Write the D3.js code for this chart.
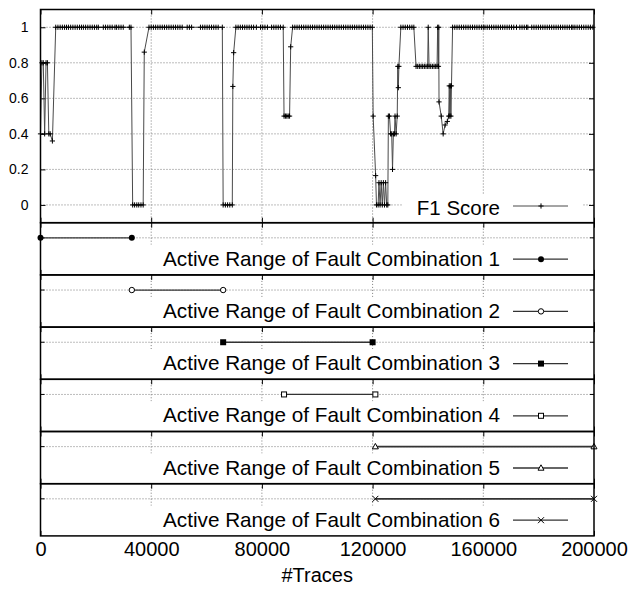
<!DOCTYPE html>
<html>
<head>
<meta charset="utf-8">
<script src="https://cdn.jsdelivr.net/npm/d3@7"></script>
<style>
  body { margin: 0; background: #fff; }
  text { font-family: "Liberation Sans", Arial, Helvetica, sans-serif; }
</style>
</head>
<body>
<div id="chart"></div>
<script>
// x ticks (number of traces) and y ticks of the F1 panel
const xTicks = [0, 40000, 80000, 120000, 160000, 200000];
const yTicks = [0, 0.2, 0.4, 0.6, 0.8, 1];

// F1 score over the number of traces
const f1Points = [
  [0, 0.4], [500, 0.8], [1000, 0.8], [1500, 0.4], [2000, 0.8], [2500, 0.8], [3000, 0.4], [3500, 0.4], [4300, 0.36],
  [5500, 1], [6300, 1], [7100, 1], [7900, 1], [8700, 1], [9400, 1], [10100, 1], [10900, 1], [11700, 1], [12500, 1],
  [13300, 1], [14100, 1], [14800, 1], [15500, 1], [16300, 1], [17100, 1], [17900, 1], [18700, 1], [19500, 1],
  [20300, 1], [20900, 1], [22700, 1], [23500, 1], [24300, 1], [25100, 1], [25900, 1], [26900, 1], [27500, 1],
  [28300, 1], [29100, 1], [29900, 1], [32100, 1], [32700, 1],
  [33300, 0], [34000, 0], [34800, 0], [35500, 0], [36300, 0], [37100, 0], [37500, 0.86],
  [39200, 1], [40000, 1], [40800, 1], [41600, 1], [42400, 1], [43200, 1], [44000, 1], [44800, 1], [45600, 1],
  [46400, 1], [47200, 1], [48000, 1], [48800, 1], [49600, 1], [50400, 1], [51200, 1], [53000, 1], [53800, 1],
  [54600, 1], [57800, 1], [58600, 1], [59400, 1], [60200, 1], [61000, 1], [61800, 1], [62600, 1], [63400, 1],
  [64200, 1], [65700, 1],
  [66000, 0], [66800, 0], [67600, 0], [68400, 0], [69300, 0], [69500, 0.667], [69800, 0.857],
  [70600, 1], [71400, 1], [72200, 1], [73000, 1], [73800, 1], [74600, 1], [75400, 1], [76200, 1], [77000, 1],
  [78000, 1], [79500, 1], [80300, 1], [81100, 1], [82000, 1], [83500, 1], [84300, 1], [85100, 1], [85900, 1],
  [86700, 1], [87700, 1],
  [88000, 0.5], [88500, 0.5], [89000, 0.5], [89500, 0.5], [90000, 0.5], [90400, 0.89],
  [91100, 1], [91900, 1], [92700, 1], [93500, 1], [94300, 1], [95100, 1], [95900, 1], [96700, 1], [97500, 1],
  [98300, 1], [99100, 1], [99900, 1], [100700, 1], [101500, 1], [102300, 1], [103100, 1], [103900, 1],
  [104700, 1], [105500, 1], [106300, 1], [107100, 1], [107900, 1], [108700, 1], [109500, 1], [110300, 1],
  [111100, 1], [111900, 1], [112700, 1], [113500, 1], [114300, 1], [115100, 1], [115900, 1], [116700, 1],
  [117500, 1], [118300, 1], [119100, 1], [119900, 1],
  [120200, 0.5], [121100, 0.165], [121400, 0], [122000, 0], [122300, 0.125], [122700, 0], [123100, 0.125],
  [123500, 0], [123900, 0.125], [124300, 0], [124700, 0.125], [125100, 0], [125500, 0],
  [125700, 0.5], [126100, 0.5], [126500, 0.4], [126900, 0.4], [127200, 0.2], [127500, 0.4], [127900, 0.4],
  [128100, 0.5], [128500, 0.4], [128900, 0.5], [129100, 0.78], [129300, 0.66], [129500, 0.78],
  [130200, 1], [131000, 1], [131800, 1], [132600, 1], [133400, 1], [134200, 1], [134900, 1],
  [135700, 0.78], [136300, 0.78], [136900, 0.78], [137500, 0.78], [138100, 0.78], [138700, 0.78], [139300, 0.78],
  [139900, 0.78], [140100, 1], [140400, 0.78], [141000, 0.78], [141600, 0.78], [142200, 0.78], [142800, 0.78],
  [143300, 0.78], [143500, 1], [143800, 0.78], [143900, 1],
  [144000, 0.58], [144800, 0.5], [145500, 0.4], [146200, 0.45], [147000, 0.47], [147500, 0.5], [147700, 0.67],
  [147900, 0.5], [148100, 0.67], [148300, 0.5], [148500, 0.67],
  [148900, 1], [149700, 1], [150500, 1], [151300, 1], [152100, 1], [152900, 1], [153700, 1], [154500, 1],
  [155300, 1], [156100, 1], [156900, 1], [157700, 1], [158500, 1], [159300, 1], [160000, 1], [160600, 1],
  [161400, 1], [162200, 1], [163000, 1], [163800, 1], [164600, 1], [165400, 1], [166200, 1], [167000, 1],
  [167800, 1], [168600, 1], [169400, 1], [170200, 1], [171000, 1], [172000, 1], [173200, 1], [174000, 1],
  [174800, 1], [175600, 1], [176100, 1], [177500, 1], [178300, 1], [179100, 1], [179900, 1], [180700, 1],
  [181500, 1], [182300, 1], [183100, 1], [183900, 1], [184700, 1], [185500, 1], [186300, 1], [187100, 1],
  [187900, 1], [188700, 1], [189500, 1], [190300, 1], [191100, 1], [191900, 1], [192400, 1], [193100, 1],
  [193900, 1], [194700, 1], [195500, 1], [196300, 1], [197100, 1], [197900, 1], [198700, 1], [199600, 1]
];

// active ranges of the fault combinations
const comboNames = [
  "Active Range of Fault Combination 1",
  "Active Range of Fault Combination 2",
  "Active Range of Fault Combination 3",
  "Active Range of Fault Combination 4",
  "Active Range of Fault Combination 5",
  "Active Range of Fault Combination 6"
];
const comboStart = [0, 33000, 66000, 88000, 121000, 121000];
const comboEnd = [33000, 66000, 120000, 121000, 200000, 200000];
const comboSymbols = ["dot", "circle", "square", "openSquare", "triangle", "cross"];

var width = 632, height = 597;
var left = 40.5, right = 594;
var topY = 9.5, topBottom = 222.7, panelH = 52.2;

var svg = d3.select("#chart")
    .append("svg")
    .attr("width", width)
    .attr("height", height);

var x = d3.scaleLinear().domain([0, 200000]).range([left, right]);
var yTop = d3.scaleLinear().domain([-0.1, 1.1]).range([topBottom, topY]);

var gridColor = "#7a7a7a";
var innerX = xTicks.slice(1, -1);

function plus(g, cx, cy, s) {
    g.append("path")
        .attr("d", `M${cx - s},${cy}H${cx + s}M${cx},${cy - s}V${cy + s}`)
        .attr("stroke", "#000").attr("stroke-width", 1).attr("fill", "none");
}

function symbol(g, type, cx, cy) {
    if (type === "dot") {
        g.append("circle").attr("cx", cx).attr("cy", cy).attr("r", 3).attr("fill", "#000");
    } else if (type === "circle") {
        g.append("circle").attr("cx", cx).attr("cy", cy).attr("r", 2.7)
            .attr("fill", "#fff").attr("stroke", "#000").attr("stroke-width", 1);
    } else if (type === "square") {
        g.append("rect").attr("x", cx - 3).attr("y", cy - 3).attr("width", 6).attr("height", 6).attr("fill", "#000");
    } else if (type === "openSquare") {
        g.append("rect").attr("x", cx - 2.5).attr("y", cy - 2.5).attr("width", 5).attr("height", 5)
            .attr("fill", "#fff").attr("stroke", "#000").attr("stroke-width", 1);
    } else if (type === "triangle") {
        g.append("path").attr("d", `M${cx},${cy - 3.2}L${cx + 3},${cy + 2.2}L${cx - 3},${cy + 2.2}Z`)
            .attr("fill", "#fff").attr("stroke", "#000").attr("stroke-width", 1);
    } else if (type === "cross") {
        g.append("path").attr("d", `M${cx - 3},${cy - 3}L${cx + 3},${cy + 3}M${cx - 3},${cy + 3}L${cx + 3},${cy - 3}`)
            .attr("stroke", "#000").attr("stroke-width", 1);
    }
}

// vertical grid + inward x ticks for one panel
function xFrame(g, y0, y1) {
    g.selectAll(null).data(innerX).enter().append("line")
        .attr("x1", d => x(d)).attr("x2", d => x(d))
        .attr("y1", y0).attr("y2", y1)
        .attr("stroke", gridColor).attr("stroke-dasharray", "1,2");
    g.append("g").attr("transform", `translate(0,${y1})`)
        .call(d3.axisBottom(x).tickValues(xTicks).tickSize(-5).tickFormat(""))
        .call(a => a.select(".domain").remove());
    g.append("g").attr("transform", `translate(0,${y0})`)
        .call(d3.axisTop(x).tickValues(xTicks).tickSize(-5).tickFormat(""))
        .call(a => a.select(".domain").remove());
}

// ---- top panel: F1 score
var topPanel = svg.append("g");
topPanel.selectAll(null).data(yTicks).enter().append("line")
    .attr("x1", left).attr("x2", right)
    .attr("y1", d => yTop(d)).attr("y2", d => yTop(d))
    .attr("stroke", gridColor).attr("stroke-dasharray", "1,2");
xFrame(topPanel, topY, topBottom);

topPanel.append("g").attr("transform", `translate(${left},0)`)
    .call(d3.axisLeft(yTop).tickValues(yTicks).tickSize(-5).tickPadding(12).tickFormat(d3.format("")))
    .call(a => a.select(".domain").remove())
    .selectAll("text").style("font-size", "14px").attr("fill", "#000")
    .style("font-family", "'Liberation Sans', Arial, sans-serif");
topPanel.append("g").attr("transform", `translate(${right},0)`)
    .call(d3.axisRight(yTop).tickValues(yTicks).tickSize(-5).tickFormat(""))
    .call(a => a.select(".domain").remove());

// key box (opaque)
topPanel.append("rect").attr("x", 402).attr("y", 195).attr("width", 180).attr("height", topBottom - 195).attr("fill", "#fff");

var line = d3.line().x(d => x(d[0])).y(d => yTop(d[1]));
topPanel.append("path").datum(f1Points)
    .attr("d", line).attr("fill", "none")
    .attr("stroke", "#4a4a4a").attr("stroke-width", 1);
f1Points.forEach(d => plus(topPanel, x(d[0]), yTop(d[1]), 2.6));

topPanel.append("text").attr("x", 500).attr("y", 215).attr("text-anchor", "end")
    .style("font-size", "20.5px").text("F1 Score");
topPanel.append("line").attr("x1", 513).attr("x2", 568).attr("y1", 206).attr("y2", 206)
    .attr("stroke", "#4a4a4a").attr("stroke-width", 1);
plus(topPanel, 541, 206, 2.6);

topPanel.append("rect").attr("x", left).attr("y", topY).attr("width", right - left).attr("height", topBottom - topY)
    .attr("fill", "none").attr("stroke", "#000").attr("stroke-width", 1.5);

// ---- lower panels: active ranges
comboNames.forEach(function (name, i) {
    var p0 = topBottom + i * panelH, p1 = p0 + panelH;
    var yP = d3.scaleLinear().domain([0, 1]).range([p1, p0]);
    var level = yP(0.71);
    var g = svg.append("g");

    g.append("line").attr("x1", left).attr("x2", right).attr("y1", level).attr("y2", level)
        .attr("stroke", gridColor).attr("stroke-dasharray", "1,2");
    xFrame(g, p0, p1);
    g.append("line").attr("x1", left).attr("x2", left + 4).attr("y1", level).attr("y2", level).attr("stroke", "#000");
    g.append("line").attr("x1", right - 4).attr("x2", right).attr("y1", level).attr("y2", level).attr("stroke", "#000");

    // key box (opaque)
    g.append("rect").attr("x", 150).attr("y", p0 + 22).attr("width", 432).attr("height", panelH - 22).attr("fill", "#fff");

    g.append("line")
        .attr("x1", x(comboStart[i])).attr("x2", x(comboEnd[i]))
        .attr("y1", level).attr("y2", level)
        .attr("stroke", "#333").attr("stroke-width", i >= 4 ? 1.8 : 1.3);
    symbol(g, comboSymbols[i], x(comboStart[i]), level);
    symbol(g, comboSymbols[i], x(comboEnd[i]), level);

    g.append("text").attr("x", 500).attr("y", p0 + 43).attr("text-anchor", "end")
        .style("font-size", "20.7px").text(name);
    g.append("line").attr("x1", 513).attr("x2", 568).attr("y1", p0 + 36.5).attr("y2", p0 + 36.5)
        .attr("stroke", "#333").attr("stroke-width", 1.3);
    symbol(g, comboSymbols[i], 541, p0 + 36.5);

    g.append("rect").attr("x", left).attr("y", p0).attr("width", right - left).attr("height", panelH)
        .attr("fill", "none").attr("stroke", "#000").attr("stroke-width", 1.5);
});

// ---- x axis labels
var bottomY = topBottom + comboNames.length * panelH;
svg.append("g").attr("transform", `translate(0,${bottomY})`)
    .call(d3.axisBottom(x).tickValues(xTicks).tickSize(0).tickPadding(6).tickFormat(d3.format("")))
    .call(a => a.select(".domain").remove())
    .selectAll("text").style("font-size", "20px").attr("fill", "#000")
    .style("font-family", "'Liberation Sans', Arial, sans-serif");

svg.append("text").attr("x", (left + right) / 2).attr("y", 582).attr("text-anchor", "middle")
    .style("font-size", "20px").text("#Traces");
</script>
</body>
</html>
